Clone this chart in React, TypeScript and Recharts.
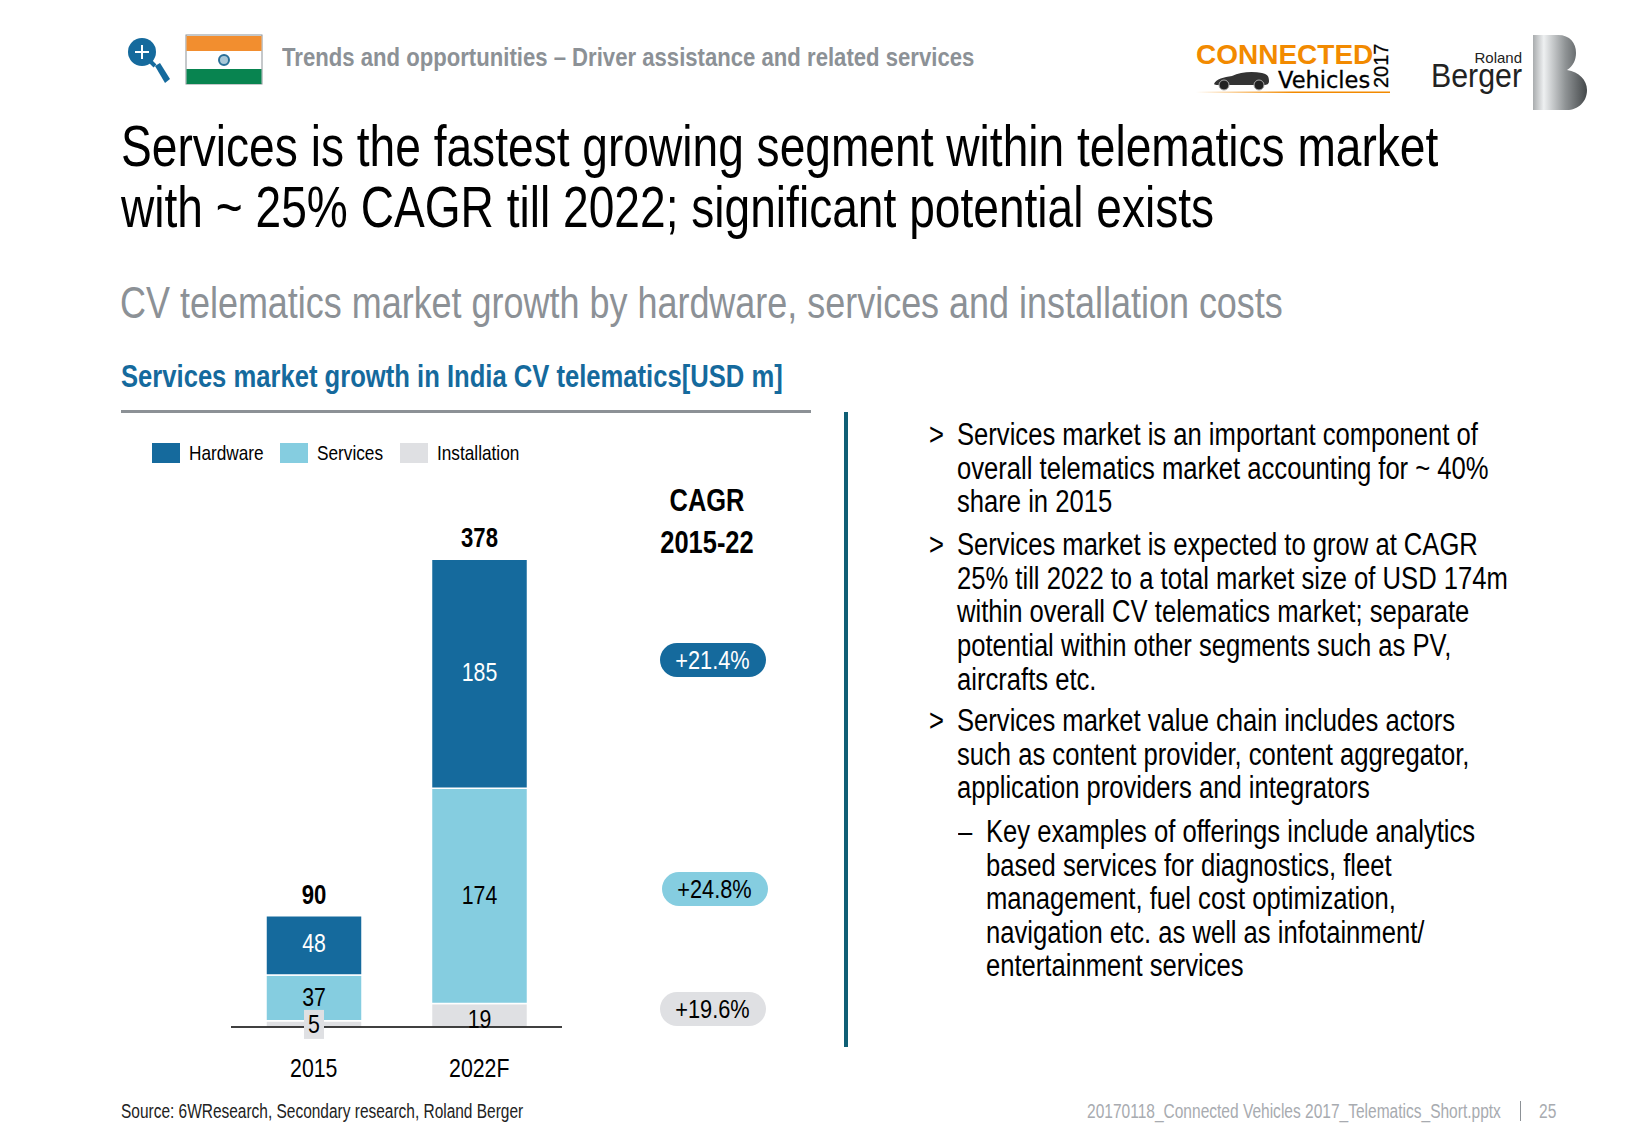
import React from "react";
import { Bar, BarChart, LabelList, Legend, XAxis, YAxis } from "recharts";

const categories = ["2015", "2022F"];
const hardware = [48, 185];
const services = [37, 174];
const installation = [5, 19];
const totals = [90, 378];

const tableData = categories.map((year, i) => ({
  year,
  Installation: installation[i],
  Services: services[i],
  Hardware: hardware[i],
  total: totals[i]
}));

const legendNames = ["Hardware", "Services", "Installation"];
const cagrValues = ["+21.4%", "+24.8%", "+19.6%"];

const bulletOne = [
  "Services market is an important component of",
  "overall telematics market accounting for ~ 40%",
  "share in 2015"
];
const bulletTwo = [
  "Services market is expected to grow at CAGR",
  "25% till 2022 to a total market size of USD 174m",
  "within overall CV telematics market; separate",
  "potential within other segments such as PV,",
  "aircrafts etc."
];
const bulletThree = [
  "Services market value chain includes actors",
  "such as content provider, content aggregator,",
  "application providers and integrators"
];
const subBullet = [
  "Key examples of offerings include analytics",
  "based services for diagnostics, fleet",
  "management, fuel cost optimization,",
  "navigation etc. as well as infotainment/",
  "entertainment services"
];

const BLUE = "#156a9d";
const LIGHT = "#85cde0";
const PALE = "#dfe0e3";
const GREY = "#8c9196";
const FONT = '"Liberation Sans", Arial, sans-serif';
const NARROW = 0.82;

function T(props: {
  x: number;
  y: number;
  size: number;
  color?: string;
  bold?: boolean;
  lh?: number;
  w?: number;
  center?: boolean;
  sx?: number;
  children: React.ReactNode;
}): React.JSX.Element {
  return (
    <div
      style={{
        position: "absolute",
        left: props.x,
        top: props.y,
        width: props.w,
        fontFamily: FONT,
        fontSize: props.size,
        lineHeight: `${props.lh ?? props.size}px`,
        fontWeight: props.bold ? 700 : 400,
        color: props.color ?? "#000",
        textAlign: props.center ? "center" : "left",
        whiteSpace: "nowrap",
        transform: `scaleX(${props.sx ?? NARROW})`,
        transformOrigin: props.center ? "center" : "left"
      }}
    >
      {props.children}
    </div>
  );
}

// svg text squeezed to look like the narrow face of the original
function narrowText(
  cx: number,
  y: number,
  value: React.ReactNode,
  fill: string,
  bold?: boolean,
  size = 26
): React.JSX.Element {
  return (
    <text
      transform={`translate(${cx},${y}) scale(${NARROW},1)`}
      textAnchor="middle"
      fontSize={size}
      fontFamily={FONT}
      fontWeight={bold ? 700 : 400}
      fill={fill}
    >
      {value}
    </text>
  );
}

function renderInstallLabel(props: any): React.JSX.Element {
  const { x, y, width, height, value } = props;
  const cx = x + width / 2;
  const cy = y + height / 2;
  if (value === 5) {
    return (
      <g>
        <rect x={cx - 10} y={cy - 14} width={20} height={29} fill={PALE} />
        {narrowText(cx, cy + 9, value, "#000")}
      </g>
    );
  }
  return narrowText(cx, cy + 13, value, "#000");
}

function renderServiceLabel(props: any): React.JSX.Element {
  const { x, y, width, height, value } = props;
  return narrowText(x + width / 2, y + height / 2 + 8, value, "#000");
}

function renderHardwareLabel(props: any): React.JSX.Element {
  const { x, y, width, height, value } = props;
  return narrowText(x + width / 2, y + height / 2 + 7, value, "#fff");
}

function renderTotalLabel(props: any): React.JSX.Element {
  const { x, y, width, value } = props;
  return narrowText(x + width / 2, y - 12, value, "#000", true, 27);
}

function renderTick(props: any): React.JSX.Element {
  const { x, y, payload } = props;
  return <g>{narrowText(x, y + 42, payload.value, "#000")}</g>;
}

const legendColors = [BLUE, LIGHT, PALE];
const legendLefts = [0, 128, 248];

function renderChartLegend(): React.JSX.Element {
  return (
    <div style={{ position: "relative", height: 0 }}>
      {legendNames.map((name, i) => (
        <React.Fragment key={name}>
          <span
            style={{
              position: "absolute",
              left: legendLefts[i],
              top: 1,
              width: 28,
              height: 20,
              background: legendColors[i]
            }}
          />
          <span
            style={{
              position: "absolute",
              left: legendLefts[i] + 37,
              top: 0,
              fontFamily: FONT,
              fontSize: 21,
              lineHeight: "21px",
              whiteSpace: "nowrap",
              color: "#000",
              transform: `scaleX(${NARROW})`,
              transformOrigin: "left"
            }}
          >
            {name}
          </span>
        </React.Fragment>
      ))}
    </div>
  );
}

function Header(): React.JSX.Element {
  return (
    <svg width={1625} height={125} style={{ position: "absolute", left: 0, top: 0 }}>
      <defs>
        <linearGradient id="rb" x1="0" x2="1" y1="0" y2="0">
          <stop offset="0" stopColor="#a9acae" />
          <stop offset="0.2" stopColor="#eef0f1" />
          <stop offset="0.6" stopColor="#8f9395" />
          <stop offset="1" stopColor="#44484a" />
        </linearGradient>
        <linearGradient id="rule" x1="0" x2="1" y1="0" y2="0">
          <stop offset="0" stopColor="#f28a00" stopOpacity={0} />
          <stop offset="0.5" stopColor="#f28a00" />
        </linearGradient>
      </defs>
      <circle cx={142} cy={52} r={14} fill={BLUE} />
      <path d="M135 52h14M142 45v14" stroke="#fff" strokeWidth={2} />
      <path d="M151 62l4 4" stroke={BLUE} strokeWidth={4} />
      <path d="M155 66l5 -3 10 16 -5 4z" fill={BLUE} />
      <rect x={186} y={35} width={76} height={49} fill="#fff" stroke={GREY} />
      <rect x={186.5} y={36} width={75} height={15} fill="#f28e2f" />
      <rect x={186.5} y={69} width={75} height={15} fill="#088450" />
      <circle cx={224} cy={60} r={5} fill="#a9c8d8" stroke="#2a6f97" strokeWidth={2} />
      <text x={1196} y={64} fontFamily={FONT} fontWeight={700} fontSize={28} fill="#f28a00">
        CONNECTED
      </text>
      <text x={1278} y={88} fontFamily="DejaVu Sans" fontWeight={500} fontSize={22.5} fill="#000" stroke="#000" strokeWidth={0.3}>
        Vehicles
      </text>
      <text
        transform="translate(1388,88) rotate(-90)"
        fontFamily={FONT}
        fontSize={20}
        fill="#000"
        stroke="#000"
        strokeWidth={0.3}
      >
        2017
      </text>
      <rect x={1196} y={91.5} width={194} height={1.5} fill="url(#rule)" />
      <path
        d="M1214 84c2 -5 10 -7 18 -8 8 -4 20 -5 30 -3 5 1 7 3 7 8 0 3 -2 4 -5 4h-42c-4 0 -8 0 -8 -1z"
        fill="#333"
      />
      <circle cx={1224} cy={85} r={5} fill="#222" stroke="#aaa" />
      <circle cx={1259} cy={85} r={5} fill="#222" stroke="#aaa" />
      <text x={1522} y={63} textAnchor="end" fontFamily={FONT} fontSize={15} fill="#222">
        Roland
      </text>
      <text x={1522} y={87} textAnchor="end" fontFamily={FONT} fontSize={33} fill="#222" textLength={91} lengthAdjust="spacingAndGlyphs">
        Berger
      </text>
      <path
        d="M1533 35h25c12 0 18 8 18 18 0 7 -3 13 -9 17 12 2 20 10 20 20 0 12 -9 20 -20 20h-34z"
        fill="url(#rb)"
      />
    </svg>
  );
}

function Bullet(props: { top: number; lines: string[] }): React.JSX.Element {
  return (
    <>
      <T x={929} y={props.top} size={31} lh={33.7} sx={0.826}>
        &gt;
      </T>
      <T x={957} y={props.top} size={31} lh={33.7} sx={0.826}>
        {props.lines.map((line) => (
          <div key={line}>{line}</div>
        ))}
      </T>
    </>
  );
}

function Pill(props: { left: number; top: number; bg: string; color: string; text: string }): React.JSX.Element {
  return (
    <div
      style={{
        position: "absolute",
        left: props.left,
        top: props.top,
        width: 106,
        height: 34,
        borderRadius: 17,
        background: props.bg,
        color: props.color,
        fontFamily: FONT,
        fontSize: 26,
        lineHeight: "34px",
        textAlign: "center"
      }}
    >
      <span style={{ display: "inline-block", transform: "translateX(-1px) scaleX(0.837)" }}>{props.text}</span>
    </div>
  );
}

export default function App(): React.JSX.Element {
  return (
    <div style={{ position: "absolute", left: 0, top: 0, width: 1625, height: 1125, background: "#fff", overflow: "hidden" }}>
      <Header />
      <T x={282} y={43} size={26} lh={28} bold color={GREY} sx={0.851}>
        Trends and opportunities – Driver assistance and related services
      </T>
      <T x={121} y={116} size={57} lh={60.5} sx={0.809}>
        Services is the fastest growing segment within telematics market
        <br />
        with ~ 25% CAGR till 2022; significant potential exists
      </T>
      <T x={120} y={278} size={44} lh={50} color={GREY} sx={0.817}>
        CV telematics market growth by hardware, services and installation costs
      </T>
      <T x={121} y={360} size={31} lh={34} bold color={BLUE} sx={0.826}>
        Services market growth in India CV telematics[USD m]
      </T>
      <div style={{ position: "absolute", left: 121, top: 410, width: 690, height: 3, background: GREY }} />
      <div style={{ position: "absolute", left: 844, top: 412, width: 4, height: 635, background: "#0f5f75" }} />

      <div style={{ position: "absolute", left: 0, top: 0 }}>
        <BarChart
          width={1625}
          height={1125}
          data={tableData}
          barSize={96}
          margin={{ top: 532, right: 1063, bottom: 0, left: 231 }}
        >
          <XAxis
            dataKey="year"
            height={98}
            tickLine={false}
            axisLine={{ stroke: "#000", strokeWidth: 1.5 }}
            tick={renderTick}
          />
          <YAxis hide domain={[0, 400]} />
          <Legend
            content={renderChartLegend}
            wrapperStyle={{ left: 152, top: 442, width: 480, bottom: "auto" }}
          />
          <Bar dataKey="Installation" stackId="a" fill={PALE} stroke="#fff" strokeWidth={1.5} isAnimationActive={false}>
            <LabelList dataKey="Installation" content={renderInstallLabel} />
          </Bar>
          <Bar dataKey="Services" stackId="a" fill={LIGHT} stroke="#fff" strokeWidth={1.5} isAnimationActive={false}>
            <LabelList dataKey="Services" content={renderServiceLabel} />
          </Bar>
          <Bar dataKey="Hardware" stackId="a" fill={BLUE} stroke="#fff" strokeWidth={1.5} isAnimationActive={false}>
            <LabelList dataKey="Hardware" content={renderHardwareLabel} />
            <LabelList dataKey="total" content={renderTotalLabel} />
          </Bar>
        </BarChart>
      </div>

      <T x={607} y={480} w={200} size={31} lh={42} bold center>
        CAGR
        <br />
        2015-22
      </T>
      <Pill left={660} top={643} bg={BLUE} color="#fff" text={cagrValues[0]} />
      <Pill left={662} top={872} bg={LIGHT} color="#000" text={cagrValues[1]} />
      <Pill left={660} top={992} bg={PALE} color="#000" text={cagrValues[2]} />

      <Bullet top={418} lines={bulletOne} />
      <Bullet top={528} lines={bulletTwo} />
      <Bullet top={704} lines={bulletThree} />
      <T x={958} y={815} size={31} lh={33.5} sx={0.826}>
        –
      </T>
      <T x={986} y={815} size={31} lh={33.5} sx={0.826}>
        {subBullet.map((line) => (
          <div key={line}>{line}</div>
        ))}
      </T>

      <T x={121} y={1100} size={20} lh={22} color="#222" sx={0.773}>
        Source: 6WResearch, Secondary research, Roland Berger
      </T>
      <T x={1087} y={1100} size={20} lh={22} color="#a8abb0" sx={0.776}>
        20170118_Connected Vehicles 2017_Telematics_Short.pptx
      </T>
      <div style={{ position: "absolute", left: 1520, top: 1101, width: 1, height: 20, background: GREY }} />
      <T x={1539} y={1100} size={20} lh={22} color="#a8abb0" sx={0.776}>
        25
      </T>
    </div>
  );
}
